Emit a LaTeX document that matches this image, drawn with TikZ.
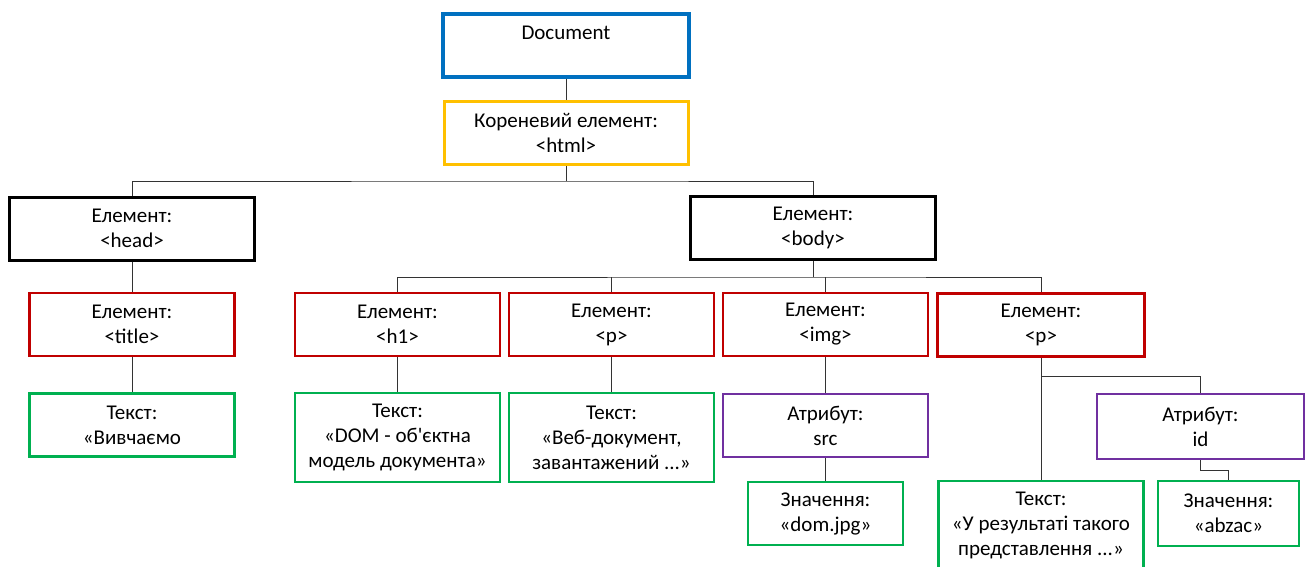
\documentclass[tikz,border=0pt]{standalone}
\usepackage{fontspec}
\setmainfont{Carlito}
\definecolor{docblue}{HTML}{0070C0}
\definecolor{rootgold}{HTML}{FFC000}
\definecolor{tagred}{HTML}{C00000}
\definecolor{txtgreen}{HTML}{00B050}
\definecolor{attrviolet}{HTML}{7030A0}
\begin{document}
\begin{tikzpicture}[x=1pt, y=-1pt,
    box/.style={draw, rectangle, align=center, inner sep=0pt,
        minimum width=205pt, minimum height=63pt,
        font=\fontsize{21}{25}\selectfont},
    docbox/.style={box, draw=docblue, line width=4pt, minimum width=246pt},
    rootbox/.style={box, draw=rootgold, line width=3pt, minimum width=244pt},
    elbox/.style={box, draw=black, line width=3pt, minimum width=245pt},
    tagbox/.style={box, draw=tagred, line width=2.5pt},
    txtbox/.style={box, draw=txtgreen, line width=2.5pt},
    attrbox/.style={box, draw=attrviolet, line width=2.5pt},
    wire/.style={draw=black!80, line width=1pt}]
    \useasboundingbox (0,0) rectangle (1314,567);

    \node[docbox] (doc) at (566,45.5) {Document\\~};
    \node[rootbox] (root) at (566,133) {Кореневий елемент:\\<html>};
    \node[elbox] (head) at (132,228.5) {Елемент:\\<head>};
    \node[elbox] (body) at (813,228) {Елемент:\\<body>};

    \node[tagbox] (title) at (132,324.5) {Елемент:\\<title>};
    \node[tagbox] (h1) at (397.5,324.5) {Елемент:\\<h1>};
    \node[tagbox] (pa) at (611.5,324.5) {Елемент:\\<p>};
    \node[tagbox] (img) at (825.5,324.5) {Елемент:\\<img>};
    \node[tagbox, minimum width=207pt] (pb) at (1041,325) {Елемент:\\<p>};

    \node[txtbox] (titletxt) at (132,425) {Текст:\\«Вивчаємо};
    \node[txtbox, minimum height=89pt] (h1txt) at (397.5,437.5)
        {Текст:\\«DOM - об\textquotesingle єктна\\модель документа»};
    \node[txtbox, minimum height=89pt] (patxt) at (611.5,437.5)
        {Текст:\\«Веб-документ,\\завантажений ...»};
    \node[attrbox] (src) at (825.5,425.5) {Атрибут:\\src};
    \node[txtbox, minimum width=155pt] (srcval) at (825.5,513.5)
        {Значення:\\«dom.jpg»};
    \node[txtbox, minimum height=88pt] (pbtxt) at (1041,525)
        {Текст:\\«У результаті такого\\представлення ...»};
    \node[attrbox, minimum width=207pt, minimum height=65pt] (id) at (1200.5,426.5)
        {Атрибут:\\id};
    \node[txtbox, minimum width=141pt, minimum height=65pt] (idval) at (1228.5,513.5)
        {Значення:\\«abzac»};

    \path (root.south) ++(0,15) coordinate (rootbus);
    \path (body.south) ++(0,16) coordinate (bodybus);
    \path (pb.south) ++(0,19) coordinate (pbbus);

    \draw[wire] (doc.south) -- (root.north);
    \draw[wire] (root.south) -- (rootbus);
    \draw[wire] (head.north) |- (rootbus) -| (body.north);
    \draw[wire] (head.south) -- (title.north);
    \draw[wire] (title.south) -- (titletxt.north);

    \draw[wire] (body.south) -- (bodybus);
    \draw[wire] (h1.north) |- (bodybus) -| (pb.north);
    \draw[wire] (pa.north) -- (pa.north |- bodybus);
    \draw[wire] (img.north) -- (img.north |- bodybus);
    \draw[wire] (h1.south) -- (h1txt.north);
    \draw[wire] (pa.south) -- (patxt.north);
    \draw[wire] (img.south) -- (src.north);
    \draw[wire] (src.south) -- (srcval.north);

    \draw[wire] (pb.south) -- (pbtxt.north);
    \draw[wire] (pbbus) -| (id.north);
    \draw[wire] (id.south) -- ++(0,10) -| (idval.north);
\end{tikzpicture}
\end{document}
